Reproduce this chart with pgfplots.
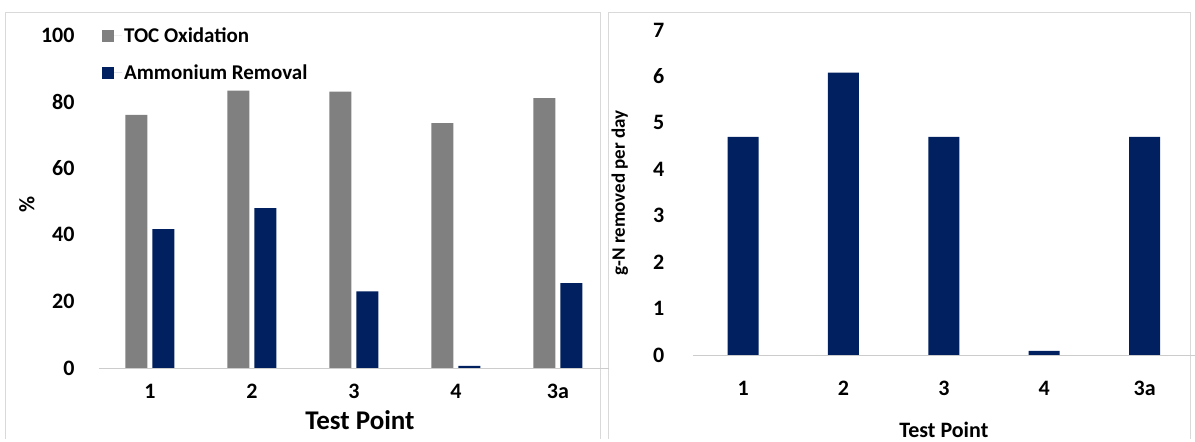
\documentclass[border=0pt]{standalone}
\usepackage{pgfplots}
\pgfplotsset{compat=1.18}
\usepackage{fontspec}
\setmainfont{Carlito}
\definecolor{tocgray}{RGB}{128,128,128}
\definecolor{navy}{RGB}{0,32,96}
\begin{document}
\begin{tikzpicture}[x=1pt,y=1pt]
\path (0,0) rectangle (1195,439);
\draw[gray!30] (5,0) -- (5,427) -- (600,427) -- (600,0);
\draw[gray!30] (608,0) -- (608,427) -- (1190,427) -- (1190,0);
\begin{axis}[
  at={(99pt,71pt)}, anchor=south west, scale only axis,
  width=510pt, height=333pt,
  xmin=-0.5, xmax=4.5, ymin=0, ymax=100,
  xtick={0,1,2,3,4}, xticklabels={1,2,3,4,3a},
  ytick=\empty,
  axis x line*=bottom, axis y line=none,
  x axis line style={gray!40},
  xtick style={draw=none},
  ticklabel style={font=\fontsize{22}{24}\selectfont\bfseries},
  xticklabel style={yshift=-8pt},
  ybar, bar width=22pt,
  clip=false,
  legend cell align=left,
  legend style={at={(0.0,1.035)}, anchor=north west, draw=none, fill=none,
    font=\fontsize{21}{23}\selectfont\bfseries, row sep=17pt},
  legend image code/.code={\fill[#1] (0pt,-6pt) rectangle (12pt,6pt);\path (0pt,0pt) -- (20pt,0pt);},
]
\addplot[fill=tocgray, draw=none, bar shift=-13.5pt] coordinates {(0,76) (1,83.3) (2,83) (3,73.5) (4,81)};
\addplot[fill=navy, draw=none, bar shift=13.5pt] coordinates {(0,41.7) (1,48) (2,23) (3,0.6) (4,25.5)};
\legend{TOC Oxidation, Ammonium Removal}
\end{axis}
\foreach \v/\yy in {0/71,20/137.6,40/204.2,60/270.8,80/337.4,100/404}{\node[font=\fontsize{22}{24}\selectfont\bfseries, anchor=east] at (78,\yy) {\v};}
\node[font=\fontsize{22}{24}\selectfont\bfseries, rotate=90] at (27,234) {\%};
\node[font=\fontsize{27}{29}\selectfont\bfseries] at (360,19) {Test Point};
\begin{axis}[
  at={(693pt,84pt)}, anchor=south west, scale only axis,
  width=502pt, height=325pt,
  xmin=-0.5, xmax=4.5, ymin=0, ymax=7,
  xtick={0,1,2,3,4}, xticklabels={1,2,3,4,3a},
  ytick=\empty,
  axis x line*=bottom, axis y line=none,
  x axis line style={gray!40},
  xtick style={draw=none},
  ticklabel style={font=\fontsize{22}{24}\selectfont\bfseries},
  xticklabel style={yshift=-18pt},
  ybar, bar width=31pt, bar shift=0pt,
  clip=false,
]
\addplot[fill=navy, draw=none] coordinates {(0,4.7) (1,6.08) (2,4.7) (3,0.09) (4,4.7)};
\end{axis}
\foreach \v in {0,...,7}{\node[font=\fontsize{22}{24}\selectfont\bfseries, anchor=east] at (668,84+\v*46.43) {\v};}
\node[font=\fontsize{19}{21}\selectfont\bfseries, rotate=90] at (620,246) {g-N removed per day};
\node[font=\fontsize{22}{24}\selectfont\bfseries] at (944,9) {Test Point};
\end{tikzpicture}
\end{document}
